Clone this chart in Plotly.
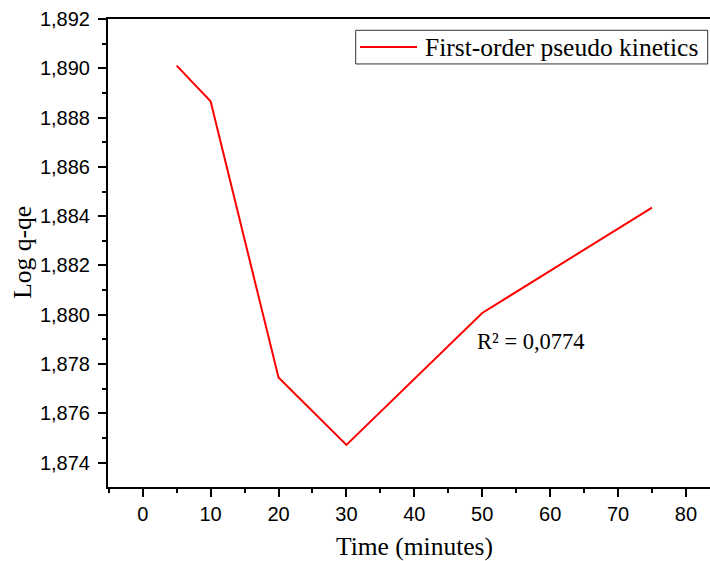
import plotly.graph_objects as go

# Kinetic data: time (min) vs log(q - qe)
time_min = [5, 10, 20, 30, 50, 75]
log_q_qe = [1.89011, 1.88866, 1.87745, 1.87472, 1.88007, 1.88435]

series_name = "First-order pseudo kinetics"
r2_label = "R² = 0,0774"
x_title = "Time (minutes)"
y_title = "Log q-qe"

x_tick_vals = [0, 10, 20, 30, 40, 50, 60, 70, 80]
y_tick_vals = [1.874, 1.876, 1.878, 1.880, 1.882, 1.884, 1.886, 1.888, 1.890, 1.892]

W, H = 710, 561
L, T, B, R = 108, 19, 73.5, 0
PW, PH = W - L - R, H - T - B


def px(x):
    return (x - L) / PW


def py(y):
    return 1 - (y - T) / PH


SANS = "Liberation Sans, Arial, sans-serif"
SERIF = "Liberation Serif, Times New Roman, serif"

fig = go.Figure()
fig.add_trace(go.Scatter(
    x=time_min, y=log_q_qe, mode="lines", name=series_name,
    line=dict(color="#ff0000", width=2), showlegend=False,
))

axis_common = dict(
    showgrid=False, zeroline=False, showline=True, linecolor="black",
    linewidth=2, ticks="outside", ticklen=8, tickwidth=1.5,
    tickcolor="black", tickfont=dict(family=SANS, size=20, color="black"),
)

fig.update_xaxes(
    range=[-5.11, 83.54], tickmode="array", tickvals=x_tick_vals,
    minor=dict(ticks="outside", ticklen=4, tickwidth=1.5, tickcolor="black",
               tickmode="linear", tick0=-5, dtick=10),
    mirror=True, **axis_common,
)
fig.update_yaxes(
    range=[1.87301, 1.892], tickmode="array", tickvals=y_tick_vals,
    tickformat=".3f", ticklabelstandoff=4,
    minor=dict(ticks="outside", ticklen=4, tickwidth=1.5, tickcolor="black",
               tickmode="linear", tick0=1.873, dtick=0.002),
    **axis_common,
)

# Legend box drawn by hand
fig.add_shape(type="rect", xref="paper", yref="paper",
              x0=px(355.7), x1=px(707.7), y0=py(64), y1=py(30.3),
              line=dict(color="#333333", width=1), fillcolor="white")
fig.add_shape(type="line", xref="paper", yref="paper",
              x0=px(360), x1=px(417), y0=py(47), y1=py(47),
              line=dict(color="#ff0000", width=2))

annotations = [
    dict(text=series_name, x=px(422.5), y=py(47.5), xanchor="left",
         yanchor="middle", font=dict(family=SERIF, size=25.5, color="black")),
    dict(text=r2_label, x=px(531), y=py(342), xanchor="center",
         yanchor="middle", font=dict(family=SERIF, size=22.5, color="black")),
    dict(text=x_title, x=px(414), y=py(547), xanchor="center",
         yanchor="middle", font=dict(family=SERIF, size=25.5, color="black")),
    dict(text=y_title, x=px(23), y=py(253), xanchor="center",
         yanchor="middle", textangle=-90,
         font=dict(family=SERIF, size=25.5, color="black")),
]
for a in annotations:
    fig.add_annotation(xref="paper", yref="paper", showarrow=False, **a)

fig.update_layout(
    width=W, height=H,
    margin=dict(l=L, r=R, t=T, b=B),
    paper_bgcolor="white", plot_bgcolor="white",
    separators=", ",
    showlegend=False,
)

fig.write_html("out.html")
